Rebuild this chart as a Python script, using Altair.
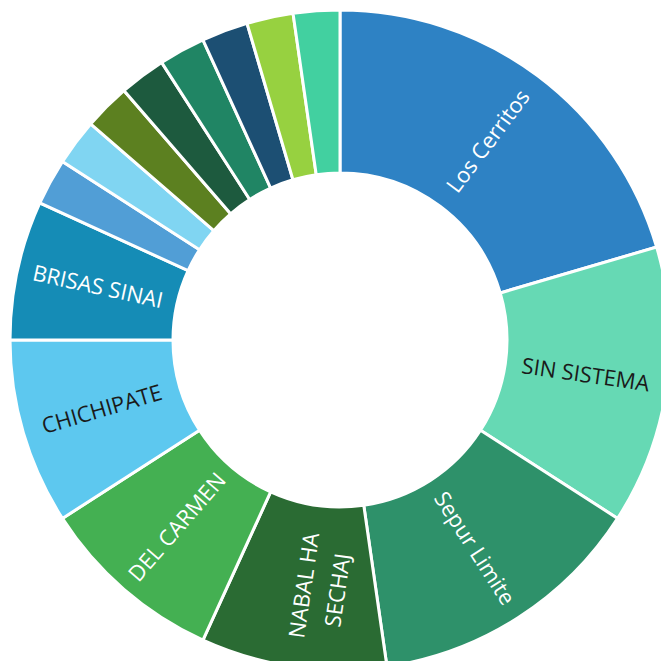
import altair as alt
import pandas as pd

names = ["Los Cerritos", "SIN SISTEMA", "Sepur Limite", "NABAL HA SECHAJ",
         "DEL CARMEN", "CHICHIPATE", "BRISAS SINAI",
         "Otro 1", "Otro 2", "Otro 3", "Otro 4", "Otro 5", "Otro 6", "Otro 7", "Otro 8"]
labels = ["Los Cerritos", "SIN SISTEMA", "Sepur Limite", "NABAL HA\nSECHAJ",
          "DEL CARMEN", "CHICHIPATE", "BRISAS SINAI",
          "", "", "", "", "", "", "", ""]
values = [9, 6, 6, 4, 4, 4, 3, 1, 1, 1, 1, 1, 1, 1, 1]
colors = ["#2E82C4", "#66D9B4", "#2E916A", "#2A6B33", "#44B052", "#5DC8EF",
          "#158CB6", "#519ED6", "#80D5F2", "#5C8020", "#1D5A3E", "#208564",
          "#1C4F73", "#97D140", "#42D0A0"]
dark_text = ["SIN SISTEMA", "CHICHIPATE"]

df = pd.DataFrame({"name": names, "label": labels, "v": values,
                   "idx": list(range(len(names)))})

base = alt.Chart(df).transform_joinaggregate(
    total="sum(v)"
).transform_window(
    cum="sum(v)", sort=[alt.SortField("idx")], frame=[None, 0]
).transform_calculate(
    mid="(datum.cum - datum.v / 2) / datum.total * 360"
).transform_calculate(
    ang="((datum.mid < 180 ? datum.mid - 90 : datum.mid - 270) + 360) % 360"
).encode(
    theta=alt.Theta("v:Q", stack=True),
    order=alt.Order("idx:Q"),
    x=alt.value(332),
    y=alt.value(332),
)

arcs = base.mark_arc(outerRadius=330, innerRadius=167, stroke="white",
                     strokeWidth=3).encode(
    color=alt.Color("name:N", scale=alt.Scale(domain=names, range=colors),
                    legend=None)
)

text = base.mark_text(radius=248, font="Open Sans", fontSize=22,
                      lineBreak="\n", lineHeight=34, baseline="middle",
                      align="center").encode(
    text="label:N",
    angle=alt.Angle("ang:Q", scale=None),
    color=alt.condition(alt.FieldOneOfPredicate(field="name", oneOf=dark_text),
                        alt.value("#1a1a1a"), alt.value("white")),
)

chart = (arcs + text).properties(
    width=653, height=653, padding=0, autosize="none"
).configure_view(stroke=None)

chart.save("out.html", embed_options={"renderer": "svg", "actions": False})
